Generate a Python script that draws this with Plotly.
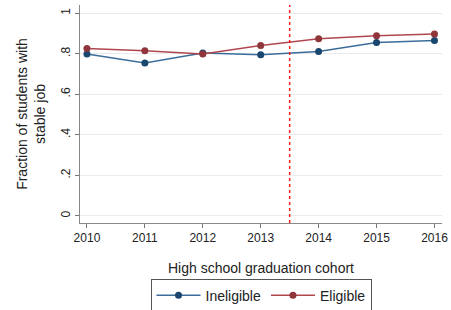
import plotly.graph_objects as go

years = [2010, 2011, 2012, 2013, 2014, 2015, 2016]
ineligible = [0.798, 0.754, 0.803, 0.795, 0.811, 0.855, 0.865]
eligible = [0.826, 0.814, 0.798, 0.840, 0.873, 0.888, 0.897]
y_ticks = [0, 0.2, 0.4, 0.6, 0.8, 1.0]
y_tick_labels = ["0", ".2", ".4", ".6", ".8", "1"]
cutoff = 2013.5

fig = go.Figure()
fig.add_trace(go.Scatter(x=years, y=ineligible, mode="lines+markers", name="Ineligible",
                         line=dict(color="#3a6d99", width=1.5),
                         marker=dict(color="#1a476f", size=7)))
fig.add_trace(go.Scatter(x=years, y=eligible, mode="lines+markers", name="Eligible",
                         line=dict(color="#b0474f", width=1.5),
                         marker=dict(color="#90353b", size=7)))
fig.add_vline(x=cutoff, line=dict(color="#ff1a1a", width=1.5, dash="dot"))

fig.update_layout(
    width=451, height=310,
    margin=dict(l=80, r=9, t=5, b=87, autoexpand=False),
    paper_bgcolor="white", plot_bgcolor="white",
    font=dict(family="Liberation Sans, Arial, sans-serif", color="#222"),
    showlegend=True,
    legend=dict(orientation="h", x=0.5, xanchor="center", y=-0.255, yanchor="top",
                bordercolor="#555", borderwidth=1, font=dict(size=14),
                itemwidth=44, tracegroupgap=0),
)
fig.update_xaxes(range=[2009.88, 2016.13], tickvals=years, ticks="outside", ticklen=4,
                 tickcolor="#777", showline=True, linecolor="#888", showgrid=False,
                 zeroline=False, tickfont=dict(size=12), automargin=False,
                 title=dict(text="High school graduation cohort", font=dict(size=14), standoff=18))
fig.update_yaxes(range=[-0.035, 1.04], tickvals=y_ticks, ticktext=y_tick_labels,
                 tickangle=-90, ticks="outside", ticklen=4, tickcolor="#777",
                 showline=True, linecolor="#888", showgrid=True, gridcolor="#eaeaea",
                 zeroline=False, tickfont=dict(size=12), automargin=False,
                 title=dict(text="Fraction of students with<br>stable job", font=dict(size=14), standoff=10))

fig.write_html("out.html", config={"displayModeBar": False},
               post_script="document.body.style.margin='0';document.body.style.padding='0';")
